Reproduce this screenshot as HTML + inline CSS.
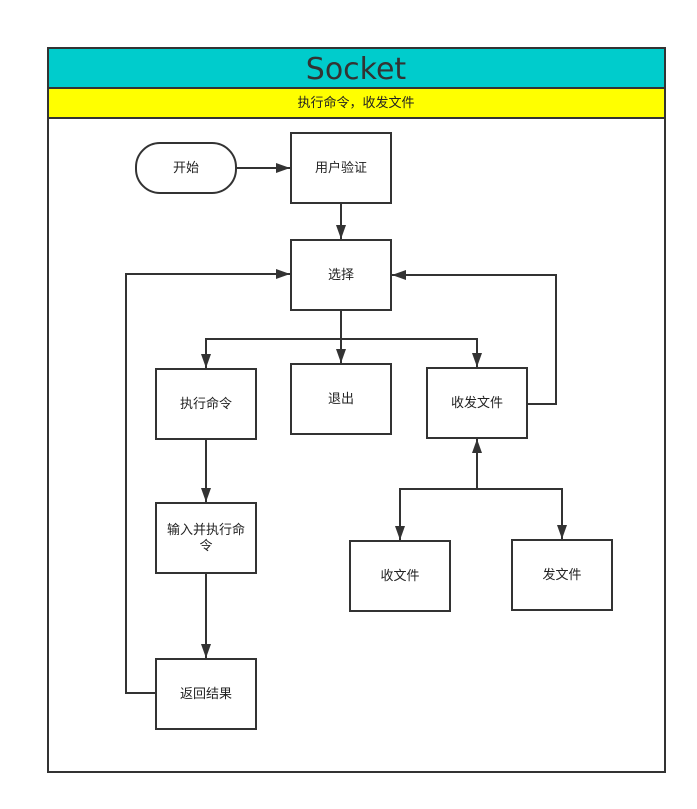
<!DOCTYPE html>
<html><head><meta charset="utf-8"><style>
html,body{margin:0;padding:0;background:#fff;}
svg text{font-family:"Liberation Sans","Noto Sans CJK SC",sans-serif;fill:#222;}
</style></head><body>
<svg width="697" height="804" viewBox="0 0 697 804" xmlns="http://www.w3.org/2000/svg">
<defs>
<marker id="b" viewBox="0 0 14 10" markerWidth="14" markerHeight="10" refX="14" refY="5" orient="auto" markerUnits="userSpaceOnUse"><path d="M0,0 L14,5 L0,10 Z" fill="#333"/></marker></defs>
<rect x="48" y="48" width="617" height="724" fill="#fff" stroke="#333" stroke-width="2"/>
<rect x="48" y="48" width="617" height="40" fill="#00cccc" stroke="#333" stroke-width="2"/>
<rect x="48" y="88" width="617" height="30" fill="#ffff00" stroke="#333" stroke-width="2"/>
<text x="356" y="79" font-size="30" text-anchor="middle" style="font-family:'DejaVu Sans','Liberation Sans',sans-serif;fill:#333">Socket</text>
<text x="356" y="107" font-size="13" text-anchor="middle">执行命令，收发文件</text>
<g fill="#fff" stroke="#333" stroke-width="2">
<rect x="136" y="143" width="100" height="50" rx="24"/>
<rect x="291" y="133" width="100" height="70"/>
<rect x="291" y="240" width="100" height="70"/>
<rect x="156" y="369" width="100" height="70"/>
<rect x="291" y="364" width="100" height="70"/>
<rect x="427" y="368" width="100" height="70"/>
<rect x="156" y="503" width="100" height="70"/>
<rect x="156" y="659" width="100" height="70"/>
<rect x="350" y="541" width="100" height="70"/>
<rect x="512" y="540" width="100" height="70"/>
</g>
<g font-size="13" text-anchor="middle">
<text x="186" y="172">开始</text>
<text x="341" y="172">用户验证</text>
<text x="341" y="279">选择</text>
<text x="206" y="408">执行命令</text>
<text x="341" y="403">退出</text>
<text x="477" y="407">收发文件</text>
<text x="206" y="534">输入并执行命</text>
<text x="206" y="550">令</text>
<text x="206" y="698">返回结果</text>
<text x="400" y="580">收文件</text>
<text x="562" y="579">发文件</text>
</g>
<g fill="none" stroke="#333" stroke-width="2" marker-end="url(#b)">
<path d="M236,168 H290"/>
<path d="M341,203 V239"/>
<path d="M341,310 V339 H206 V368"/>
<path d="M341,339 V363"/>
<path d="M341,339 H477 V367"/>
<path d="M527,404 H556 V275 H392"/>
<path d="M156,693 H126 V274 H290"/>
<path d="M206,439 V502"/>
<path d="M206,573 V658"/>
<path d="M477,489 V439"/>
<path d="M477,489 H400 V540"/>
<path d="M477,489 H562 V539"/>
</g>
</svg>
</body></html>
